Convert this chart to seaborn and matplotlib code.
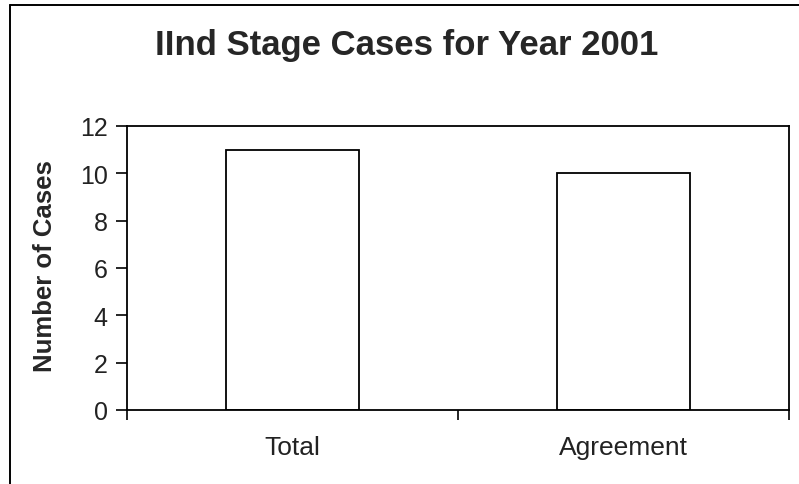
import matplotlib
matplotlib.use("Agg")
import matplotlib.pyplot as plt
from matplotlib.lines import Line2D
from matplotlib.ticker import FixedLocator, NullFormatter, FixedFormatter
import seaborn as sns
import pandas as pd

# Chart data
categories = ["Total", "Agreement"]
cases = [11, 10]
y_ticks = [0, 2, 4, 6, 8, 10, 12]

sns.set_theme(style="white")
plt.rcParams["font.family"] = ["Liberation Sans", "DejaVu Sans"]

W, H = 799, 485
fig = plt.figure(figsize=(W / 100, H / 100), dpi=100)
fig.patch.set_facecolor("white")

# Plot area in pixel coordinates: left 127, right 789, top 127, bottom 411
l, r, t, b = 127, 789, 127, 411
ax = fig.add_axes([l / W, 1 - b / H, (r - l) / W, (b - t) / H])

df = pd.DataFrame({"category": categories, "cases": cases})
sns.barplot(data=df, x="category", y="cases", ax=ax, color="white",
            edgecolor="black", linewidth=1.3, width=0.4, saturation=1)

ax.set_xlim(-0.5, len(categories) - 0.5)
ax.set_ylim(0, 12)
ax.set_yticks(y_ticks)
ax.set_yticklabels([str(v) for v in y_ticks])

# Category boundaries carry tick marks; labels sit at the centres
ax.xaxis.set_major_locator(FixedLocator([-0.5, 0.5, 1.5]))
ax.xaxis.set_major_formatter(NullFormatter())
ax.xaxis.set_minor_locator(FixedLocator(range(len(categories))))
ax.xaxis.set_minor_formatter(FixedFormatter(categories))
ax.tick_params(axis="x", which="major", direction="out", length=7, width=1.2,
               color="black", bottom=True)
ax.tick_params(axis="x", which="minor", length=0, pad=18, labelsize=19,
               labelcolor="#222222")
ax.tick_params(axis="y", direction="out", length=8, width=1.2, color="black",
               left=True, pad=6, labelsize=18, labelcolor="#222222")

for s in ax.spines.values():
    s.set_visible(True)
    s.set_color("black")
    s.set_linewidth(1.3)

ax.set_xlabel("")
ax.set_ylabel("Number of Cases", fontsize=18.5, fontweight="bold")
ax.yaxis.set_label_coords((57 - l) / (r - l), (b - 266.5) / (b - t))

fig.text(407 / W, 1 - 46 / H, "IInd Stage Cases for Year 2001",
         ha="center", va="center", fontsize=25, fontweight="bold")

# Chart frame (top and left edges lie inside the image)
fig.add_artist(Line2D([10 / W, 1], [1 - 6 / H, 1 - 6 / H],
                      transform=fig.transFigure, color="black", lw=1.4))
fig.add_artist(Line2D([10 / W, 10 / W], [0, 1 - 6 / H],
                      transform=fig.transFigure, color="black", lw=1.4))

fig.savefig("out.png", dpi=100, facecolor="white")
